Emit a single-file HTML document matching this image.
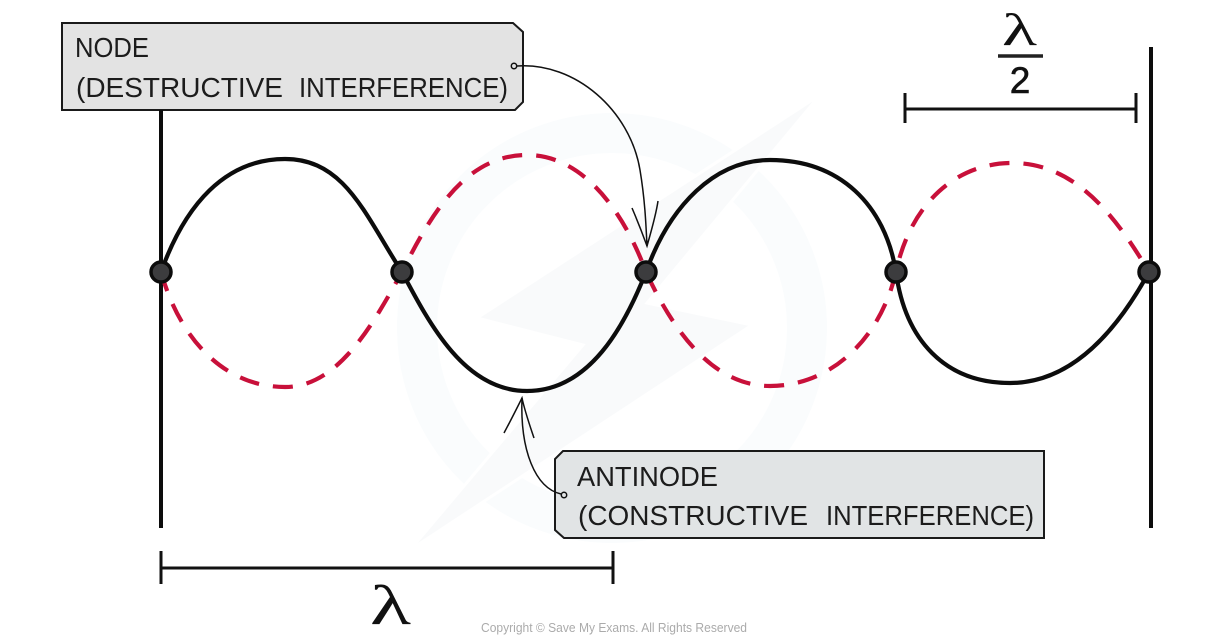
<!DOCTYPE html>
<html>
<head>
<meta charset="utf-8">
<style>
html,body{margin:0;padding:0;background:#fff;width:1226px;height:640px;overflow:hidden}
svg{display:block}
text{font-family:"Liberation Sans",sans-serif;fill:#1c1c1c}
</style>
</head>
<body>
<svg width="1226" height="640" viewBox="0 0 1226 640" xmlns="http://www.w3.org/2000/svg">
<!-- watermark -->
<g fill="none">
<circle cx="612" cy="328" r="195" stroke="#fafcfd" stroke-width="40"/>
<polygon points="820,95 477,318 583,345 410,550 752,325 647,303" fill="#f9fafb" stroke="#fff" stroke-width="3"/>
</g>
<!-- boxes -->
<polygon points="62,23 513,23 523,32 523,102 515,110 62,110" fill="#e3e3e3" stroke="#1a1a1a" stroke-width="2"/>
<polygon points="563,451 1044,451 1044,538 564,538 555,530 555,459" fill="#e1e4e5" stroke="#1a1a1a" stroke-width="2"/>
<text x="75" y="57" font-size="28" textLength="74" lengthAdjust="spacingAndGlyphs">NODE</text>
<text x="76" y="97" font-size="28" textLength="207" lengthAdjust="spacingAndGlyphs">(DESTRUCTIVE</text>
<text x="299" y="97" font-size="28" textLength="209" lengthAdjust="spacingAndGlyphs">INTERFERENCE)</text>
<text x="577" y="486" font-size="28" textLength="141" lengthAdjust="spacingAndGlyphs">ANTINODE</text>
<text x="578" y="525" font-size="28" textLength="230" lengthAdjust="spacingAndGlyphs">(CONSTRUCTIVE</text>
<text x="826" y="525" font-size="28" textLength="208" lengthAdjust="spacingAndGlyphs">INTERFERENCE)</text>
<!-- verticals -->
<g stroke="#0c0c0c" stroke-width="4" fill="none">
<path d="M161,110V528"/>
<path d="M1151,47V528"/>
</g>
<!-- dims -->
<g stroke="#111" stroke-width="3" fill="none">
<path d="M161,568H613M161,551V584M613,551V584"/>
<path d="M905,109H1136M905,93V123M1136,93V123"/>
<path d="M998,56H1043" stroke-width="3.5" stroke="#222"/>
</g>
<!-- waves -->
<path d="M161,272 C180,340 225,387 285,387 C340,387 375,320 402,272 C435,205 470,155 527,155 C585,155 625,215 646,272 C675,335 715,386 770,386 C830,386 880,340 896,272 C910,205 955,163 1012,163 C1075,163 1115,215 1149,272" fill="none" stroke="#c8103a" stroke-width="4.2" stroke-dasharray="20 14"/>
<path d="M161,272 C185,205 225,159 285,159 C345,159 365,215 402,272 C430,325 465,391 527,391 C590,391 625,325 646,272 C670,205 715,160 770,160 C840,160 885,205 896,272 C905,340 945,383 1010,383 C1075,383 1120,325 1149,272" fill="none" stroke="#0c0c0c" stroke-width="4.2"/>
<!-- arrows -->
<g fill="none" stroke="#111" stroke-width="1.5">
<path d="M517,66 C575,62 630,110 640,170 C645,200 646,225 647,246"/>
<path d="M632,208 C638,222 643,235 647,246 C651,232 656,215 658,201"/>
<path d="M561,494 C535,488 520,450 522,398"/>
<path d="M504,433 C511,420 517,408 522,398 C525,412 530,426 534,438"/>
<circle cx="514" cy="66" r="2.7" fill="#e3e3e3"/>
<circle cx="564" cy="495" r="2.7" fill="#e1e4e5"/>
</g>
<!-- nodes -->
<g fill="#3c3c3e" stroke="#0c0c0c" stroke-width="3.5">
<circle cx="161" cy="272" r="10"/>
<circle cx="402" cy="272" r="10"/>
<circle cx="646" cy="272" r="10"/>
<circle cx="896" cy="272" r="10"/>
<circle cx="1149" cy="272" r="10"/>
</g>
<!-- labels -->
<text x="1002" y="45" font-size="46" textLength="35" lengthAdjust="spacingAndGlyphs" style="font-family:'Liberation Serif',serif;fill:#111">λ</text>
<text x="1020" y="93" font-size="37" text-anchor="middle" style="fill:#111;stroke:#111;stroke-width:.6">2</text>
<text x="370" y="624" font-size="56" textLength="41" lengthAdjust="spacingAndGlyphs" style="font-family:'Liberation Serif',serif;fill:#111">λ</text>
<text x="481" y="632" font-size="12.5" style="fill:#ababab" textLength="266" lengthAdjust="spacingAndGlyphs">Copyright © Save My Exams. All Rights Reserved</text>
</svg>
</body>
</html>
